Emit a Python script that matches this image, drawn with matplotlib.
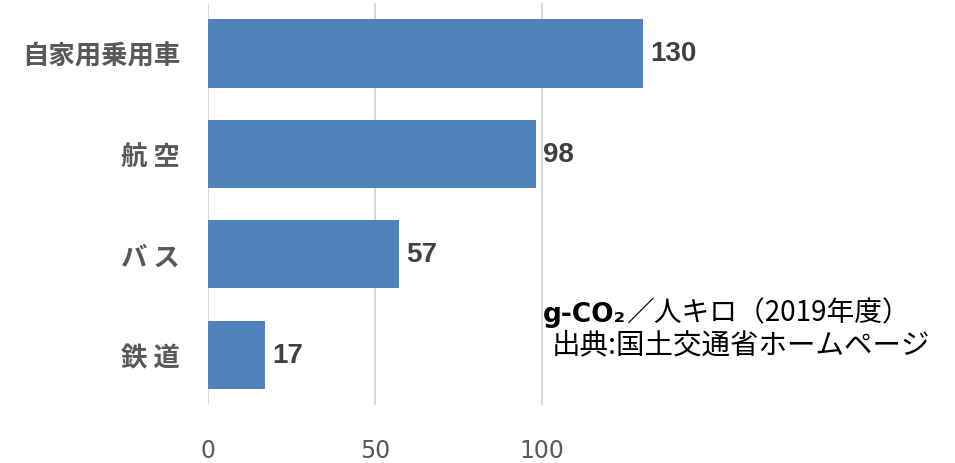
import matplotlib
matplotlib.use("Agg")
import matplotlib.pyplot as plt

# CO2 emissions per passenger-km by transport mode (FY2019)
modes = ["自家用乗用車", "航 空", "バ ス", "鉄 道"]
emissions = [130, 98, 57, 17]
x_ticks = [0, 50, 100]

unit_label = "g-CO₂"
unit_rest = "／人キロ（2019年度）"
source_label = "出典:国土交通省ホームページ"

plt.rcParams["font.family"] = ["Noto Sans CJK JP", "DejaVu Sans"]

fig = plt.figure(figsize=(9.55, 4.64), dpi=100)
ax = fig.add_axes([0.2178, 0.125, 0.49, 0.866])

pos = list(range(len(modes)))
ax.barh(pos, emissions, height=0.68, color="#4F81BD", zorder=3)
ax.set_ylim(3.5, -0.5)
ax.set_xlim(0, 140)

for p, v in zip(pos, emissions):
    ax.text(v + 2.2, p, str(v), va="center", ha="left", fontsize=20,
            fontweight="bold", color="#404040", family="Liberation Sans")

ax.set_yticks(pos)
ax.set_yticklabels(modes, fontsize=19, color="#595959", fontweight="bold")
ax.set_xticks(x_ticks)
ax.set_xticklabels([str(t) for t in x_ticks], fontsize=17, color="#595959",
                   family="DejaVu Sans")
ax.tick_params(axis="y", length=0, pad=20)
ax.tick_params(axis="x", length=0, pad=24)
ax.xaxis.grid(True, color="#d9d9d9", linewidth=1.5, zorder=0)
for s in ax.spines.values():
    s.set_visible(False)

# unit and source note
t1 = fig.text(543 / 955, 1 - 322 / 464, unit_label, fontsize=19, fontweight="bold",
              family="DejaVu Sans", color="black", va="baseline")
fig.canvas.draw()
ax.annotate(unit_rest, xy=(1, 0), xycoords=t1, xytext=(0, 0), textcoords="offset points",
            fontsize=20, color="black", va="bottom", annotation_clip=False)
fig.text(552 / 955, 1 - 353 / 464, source_label, fontsize=20.5, color="black",
         va="baseline")

fig.savefig("out.png", dpi=100, facecolor="white")
